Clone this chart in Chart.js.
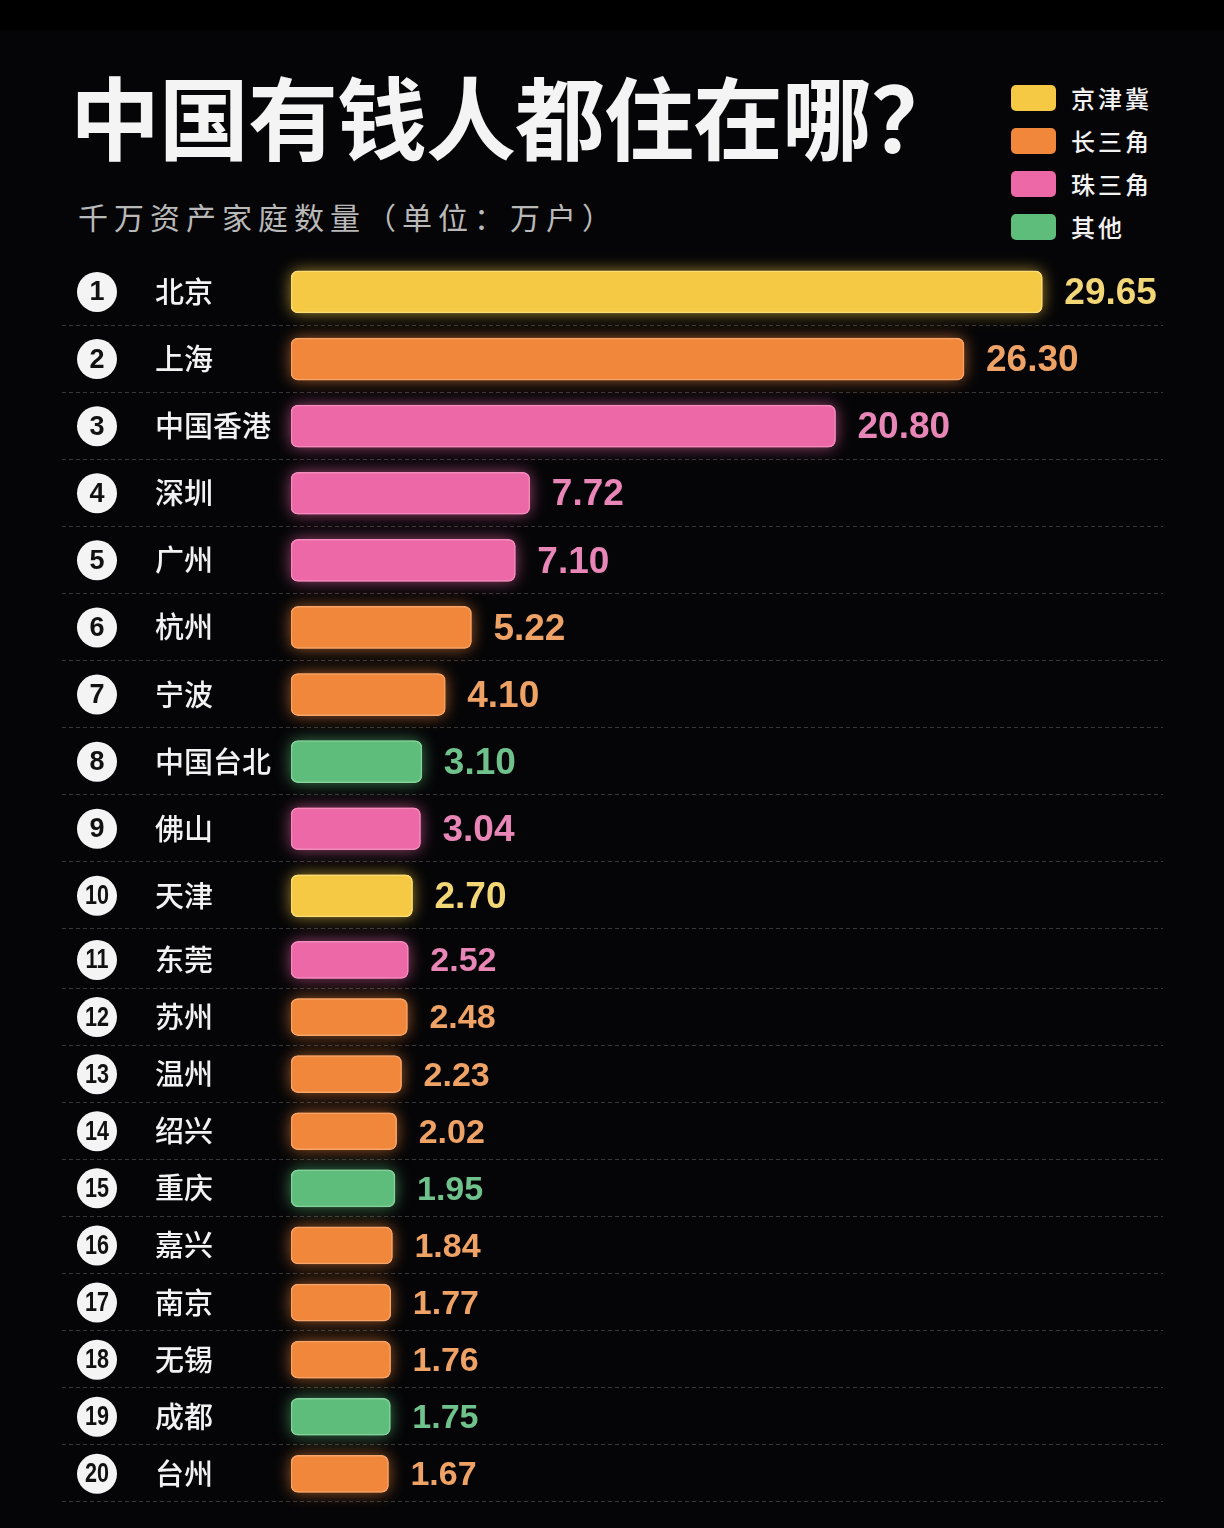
<!DOCTYPE html>
<html><head><meta charset="utf-8">
<script src="https://cdn.jsdelivr.net/npm/chart.js@4/dist/chart.umd.min.js"></script>
<style>
html,body{margin:0;padding:0;background:#050507;}
#page{position:relative;width:1224px;height:1528px;overflow:hidden;background:#050507;}
#topstrip{position:absolute;left:0;top:0;width:1224px;height:30px;background:#000;}
#title{position:absolute;left:70px;top:69px;font-family:"Noto Sans CJK SC";font-weight:700;font-size:90px;line-height:90px;color:#f4f4f4;white-space:nowrap;letter-spacing:-1px;}
#subtitle{position:absolute;left:78px;top:199px;font-family:"Noto Sans CJK SC";font-weight:400;font-size:30px;line-height:34px;color:#b9b9b9;letter-spacing:6px;white-space:nowrap;}
#legend{position:absolute;left:1011px;top:76px;}
.lg{display:flex;align-items:center;height:43px;}
.sw{width:45px;height:26px;border-radius:5px;margin-right:15px;}
.lt{font-family:"Noto Sans CJK SC";font-weight:500;font-size:24px;color:#f2f2f2;letter-spacing:3px;}
.wrap{position:absolute;left:0;width:1224px;}
#wrapA{top:240.6px;height:705.8px;}
#wrapB{top:913.6px;height:605.8px;}
</style>
</head>
<body>
<div id="page">
  <div id="topstrip"></div>
  <div id="title">中国有钱人都住在哪？</div>
  <div id="subtitle">千万资产家庭数量（单位：万户）</div>
  <div id="legend"></div>
  <div class="wrap" id="wrapA"><canvas id="chartA"></canvas></div>
  <div class="wrap" id="wrapB"><canvas id="chartB"></canvas></div>
</div>
<script>
// ---- data ----
const cities = ['北京','上海','中国香港','深圳','广州','杭州','宁波','中国台北','佛山','天津',
                '东莞','苏州','温州','绍兴','重庆','嘉兴','南京','无锡','成都','台州'];
const values = [29.65,26.30,20.80,7.72,7.10,5.22,4.10,3.10,3.04,2.70,
                2.52,2.48,2.23,2.02,1.95,1.84,1.77,1.76,1.75,1.67];
const regionOf = ['京津冀','长三角','珠三角','珠三角','珠三角','长三角','长三角','其他','珠三角','京津冀',
                  '珠三角','长三角','长三角','长三角','其他','长三角','长三角','长三角','其他','长三角'];
const regions = ['京津冀','长三角','珠三角','其他'];
const valueLabels = ['29.65','26.30','20.80','7.72','7.10','5.22','4.10','3.10','3.04','2.70',
                     '2.52','2.48','2.23','2.02','1.95','1.84','1.77','1.76','1.75','1.67'];

// ---- styles ----
const barColors  = ['#F6C944','#F0873A','#EC68A6','#5EBD7A'];
const edgeColors = ['#FBDD78','#F6A46A','#F38CBD','#86D29C'];
const textColors = ['#F3D676','#EFA265','#E886B7','#6FC28B'];
const axisMin = -2.5, axisMax = 35.2;

// legend
const lg = document.getElementById('legend');
regions.forEach((r,i)=>{
  const d = document.createElement('div'); d.className='lg';
  d.innerHTML = '<div class="sw" style="background:'+barColors[i]+'"></div><div class="lt">'+r+'</div>';
  lg.appendChild(d);
});

const ri = i => regions.indexOf(regionOf[i]);

const decor = {
  id:'decor',
  beforeDatasetsDraw(chart, args, o){
    const ctx = chart.ctx, ys = chart.scales.y, xs = chart.scales.x, n = chart.data.labels.length;
    const step = ys.height / n;
    const th = o.thickness;
    ctx.save();
    ctx.strokeStyle = 'rgba(255,255,255,0.20)';
    ctx.lineWidth = 1;
    ctx.setLineDash([4,3]);
    for(let i=0;i<n;i++){
      const y = Math.round(ys.getPixelForValue(i) + step/2) - 0.5;
      ctx.beginPath(); ctx.moveTo(62,y); ctx.lineTo(1163,y); ctx.stroke();
    }
    ctx.setLineDash([]);
    for(let i=0;i<n;i++){
      const x0 = xs.getPixelForValue(axisMin);
      const x1 = xs.getPixelForValue(values[o.start+i]);
      const y = ys.getPixelForValue(i);
      const c = barColors[ri(o.start+i)];
      ctx.shadowColor = c + 'AA';
      ctx.shadowBlur = 16;
      ctx.fillStyle = c;
      ctx.beginPath();
      ctx.roundRect(x0, y - th/2, x1 - x0, th, 7);
      ctx.fill();
    }
    ctx.restore();
  },
  afterDatasetsDraw(chart, args, o){
    const ctx = chart.ctx, ys = chart.scales.y, xs = chart.scales.x, n = chart.data.labels.length;
    ctx.save();
    for(let i=0;i<n;i++){
      const x1 = xs.getPixelForValue(values[o.start+i]);
      const y = ys.getPixelForValue(i);
      ctx.textBaseline = 'middle';
      ctx.textAlign = 'left';
      ctx.font = 'bold ' + o.valueSize + 'px "Liberation Sans", Arial, sans-serif';
      ctx.fillStyle = textColors[ri(o.start+i)];
      ctx.fillText(valueLabels[o.start+i], x1 + 22, y + 2);
    }
    for(let i=0;i<n;i++){
      const y = ys.getPixelForValue(i);
      ctx.fillStyle = '#f4f4f4';
      ctx.beginPath(); ctx.arc(97, y, 20, 0, Math.PI*2); ctx.fill();
      const num = String(o.start + i + 1);
      ctx.save();
      ctx.fillStyle = '#111';
      ctx.textAlign = 'center';
      ctx.textBaseline = 'middle';
      ctx.translate(97, y + 1);
      if(num.length > 1){ ctx.scale(0.8, 1); }
      ctx.font = 'bold 27px "Liberation Sans", Arial, sans-serif';
      ctx.fillText(num, 0, 0);
      ctx.restore();
    }
    ctx.restore();
  }
};

function makeChart(id, start, end, thickness, valueSize){
  const labs = cities.slice(start, end);
  const vals = values.slice(start, end);
  const idx = labs.map((_,k)=>ri(start+k));
  return new Chart(document.getElementById(id), {
    type:'bar',
    data:{
      labels: labs,
      datasets:[{
        data: vals.map(v=>[axisMin, v]),
        backgroundColor: idx.map(k=>barColors[k]),
        borderColor: idx.map(k=>edgeColors[k]),
        borderWidth: 1.5,
        borderRadius: 7,
        borderSkipped: false,
        barThickness: thickness
      }]
    },
    options:{
      indexAxis:'y',
      responsive:true,
      maintainAspectRatio:false,
      animation:false,
      layout:{padding:{left:155, right:52, top:0, bottom:0}},
      plugins:{legend:{display:false}, tooltip:{enabled:false},
               decor:{start:start, valueSize:valueSize, thickness:thickness}},
      scales:{
        x:{display:false, min:axisMin, max:axisMax},
        y:{
          grid:{display:false}, border:{display:false},
          afterFit(s){ s.width = 136; },
          ticks:{
            autoSkip:false, crossAlign:'far', padding:0,
            color:'#f2f2f2',
            font:{family:'"Noto Sans CJK SC"', size:29, weight:'500'}
          }
        }
      }
    },
    plugins:[decor]
  });
}

makeChart('chartA', 0, 10, 42, 37);
makeChart('chartB', 10, 20, 37, 34);
</script>
</body></html>
